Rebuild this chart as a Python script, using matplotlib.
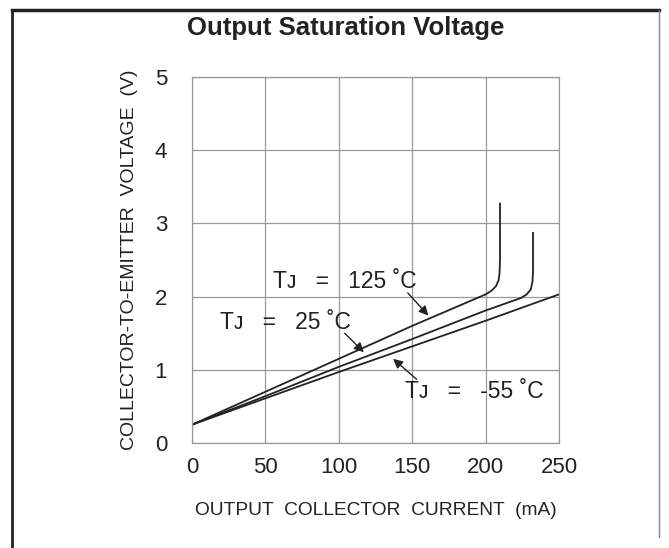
import matplotlib
matplotlib.use("Agg")
import matplotlib.pyplot as plt
from matplotlib.lines import Line2D

plt.rcParams['font.family'] = ['Liberation Sans', 'DejaVu Sans']

# curve data (mA, V)
i_125 = [0, 50, 100, 150, 200, 204, 207, 208.8, 209.5, 209.8, 209.8]
v_125 = [0.25, 0.70, 1.15, 1.60, 2.03, 2.08, 2.14, 2.22, 2.32, 2.50, 3.27]
i_25 = [0, 50, 100, 150, 200, 224, 228, 230.8, 231.9, 232.3, 232.3]
v_25 = [0.25, 0.64, 1.04, 1.42, 1.81, 1.98, 2.03, 2.10, 2.20, 2.35, 2.87]
i_m55 = [0, 50, 100, 150, 200, 250]
v_m55 = [0.25, 0.61, 0.97, 1.32, 1.67, 2.03]

x_ticks = [0, 50, 100, 150, 200, 250]
y_ticks = [0, 1, 2, 3, 4, 5]

fig = plt.figure(figsize=(6.69, 5.48), dpi=100)
ax = fig.add_axes([0.287, 0.1916, 0.5486, 0.668])

for i, v in [(i_125, v_125), (i_25, v_25), (i_m55, v_m55)]:
    ax.plot(i, v, color='#222222', lw=1.3, solid_joinstyle='round')

ax.set_xlim(0, 250)
ax.set_ylim(0, 5)
ax.set_xticks(x_ticks)
ax.set_yticks(y_ticks)
ax.tick_params(length=0, labelsize=16, colors='#222222')
ax.tick_params(axis='x', pad=10)
ax.tick_params(axis='y', pad=18)
ax.grid(True, color='#999999', lw=0.9)
for s in ax.spines.values():
    s.set_color('#999999')
    s.set_linewidth(0.9)

ax.set_xlabel('OUTPUT  COLLECTOR  CURRENT  (mA)', fontsize=13.8,
              color='#222222', labelpad=17)
ax.set_ylabel('COLLECTOR-TO-EMITTER  VOLTAGE  (V)', fontsize=14,
              color='#222222', labelpad=12)
fig.text(0.516, 0.948, 'Output Saturation Voltage', ha='center', va='center',
         fontsize=18.5, fontweight='bold', color='#222222')

arrow = dict(arrowstyle='-|>', color='#222222', lw=1.0,
             mutation_scale=14, shrinkA=0, shrinkB=0)
labels = [
    ('T\u1d0a   =   125 \u02daC', (55, 2.2), (147, 2.05), (161, 1.74)),
    ('T\u1d0a   =   25 \u02daC', (19, 1.64), (104, 1.50), (117, 1.24)),
    ('T\u1d0a   =   -55 \u02daC', (145, 0.70), (153, 0.87), (137, 1.15)),
]
for txt, pos, tail, tip in labels:
    ax.text(pos[0], pos[1], txt, fontsize=16.5, color='#222222',
            ha='left', va='center')
    ax.annotate('', xy=tip, xytext=tail, arrowprops=arrow)

# frame around the figure like the datasheet box
fig.add_artist(Line2D([12 / 669, 12 / 669], [0, 1 - 10 / 548],
                      color='#222222', lw=2.0))
fig.add_artist(Line2D([12 / 669, 659 / 669], [1 - 10 / 548, 1 - 10 / 548],
                      color='#222222', lw=2.5))
fig.add_artist(Line2D([659 / 669, 659 / 669], [0.02, 1 - 10 / 548],
                      color='#888888', lw=1.0))

fig.savefig('out.png', dpi=100)
